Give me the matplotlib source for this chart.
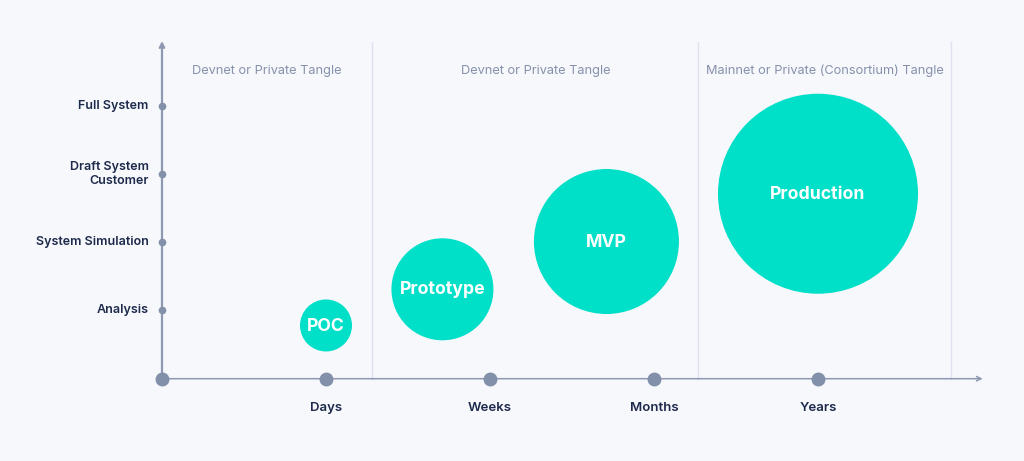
import matplotlib
matplotlib.use("Agg")
import matplotlib.pyplot as plt

plt.rcParams['font.family'] = ['Inter', 'DejaVu Sans']

# ---- data ----
time_labels = ["Days", "Weeks", "Months", "Years"]
time_values = [1, 2, 3, 4]
stage_labels = ["Analysis", "System Simulation", "Draft System\nCustomer", "Full System"]
stage_values = [1, 2, 3, 4]
phase_names = ["POC", "Prototype", "MVP", "Production"]
phase_time = [1.0, 1.71, 2.71, 4.0]
phase_stage = [0.78, 1.31, 2.01, 2.71]
phase_diameter_px = [52, 102, 145, 200]
env_bounds = [0, 1.282, 3.27, 4.811]
env_labels = ["Devnet or Private Tangle", "Devnet or Private Tangle",
              "Mainnet or Private (Consortium) Tangle"]

# ---- style ----
BG = "#f6f8fc"
AXIS = "#8e98b1"
DOT = "#8390a9"
DIV = "#dde3ee"
TEAL = "#00dfc8"
DARK = "#1e2a4b"
HEAD = "#8791ab"

fig = plt.figure(figsize=(10.24, 4.61), dpi=100, facecolor=BG)
ax = fig.add_axes([0, 0, 1, 1])
ax.set_facecolor(BG)
px_x, px_y = 164.0, 68.25
ax.set_xlim(-162 / px_x, (1024 - 162) / px_x)
ax.set_ylim(-(461 - 378.7) / px_y, 378.7 / px_y)
ax.axis('off')

# environment dividers
top_div = (378.7 - 42) / px_y
for b in env_bounds[1:]:
    ax.plot([b, b], [0, top_div], color=DIV, lw=1.0, zorder=1)
for i, lab in enumerate(env_labels):
    mid = (env_bounds[i] + env_bounds[i + 1]) / 2
    ax.text(mid, (378.7 - 70.7) / px_y, lab, ha='center', va='center',
            fontsize=9.2, color=HEAD, zorder=3)

# axes arrows
ax.annotate("", xy=((982.7 - 162) / px_x, 0), xytext=(0, 0),
            arrowprops=dict(arrowstyle='->', color=AXIS, lw=1.1,
                            shrinkA=0, shrinkB=0, mutation_scale=8), zorder=2)
ax.annotate("", xy=(0, (378.7 - 41) / px_y), xytext=(0, 0),
            arrowprops=dict(arrowstyle='->', color=AXIS, lw=1.6,
                            shrinkA=0, shrinkB=0, mutation_scale=8), zorder=2)

# ticks
ax.plot([0], [0], 'o', ms=9, color=DOT, zorder=4)
ax.plot(time_values, [0] * len(time_values), 'o', ms=9, color=DOT, zorder=4, lw=0)
for t, lab in zip(time_values, time_labels):
    ax.annotate(lab, xy=(t, 0), xytext=(0, -20.8), textcoords='offset points',
                ha='center', va='center', fontsize=9.5, fontweight='semibold', color=DARK)
ax.plot([0] * len(stage_values), stage_values, 'o', ms=4.5, color=DOT, zorder=4, lw=0)
for s, lab in zip(stage_values, stage_labels):
    ax.annotate(lab, xy=(0, s), xytext=(-9.5, 0), textcoords='offset points',
                ha='right', va='center', fontsize=9, fontweight='semibold', color=DARK,
                multialignment='right', linespacing=1.2)

# bubbles
sizes = [(d * 0.72) ** 2 for d in phase_diameter_px]
ax.scatter(phase_time, phase_stage, s=sizes, color=TEAL, edgecolors='none', zorder=5)
for x, y, n in zip(phase_time, phase_stage, phase_names):
    ax.text(x, y - 0.01, n, ha='center', va='center', fontsize=12.7, fontweight='bold',
            color='white', zorder=6)

fig.savefig("out.png", dpi=100, facecolor=BG)
